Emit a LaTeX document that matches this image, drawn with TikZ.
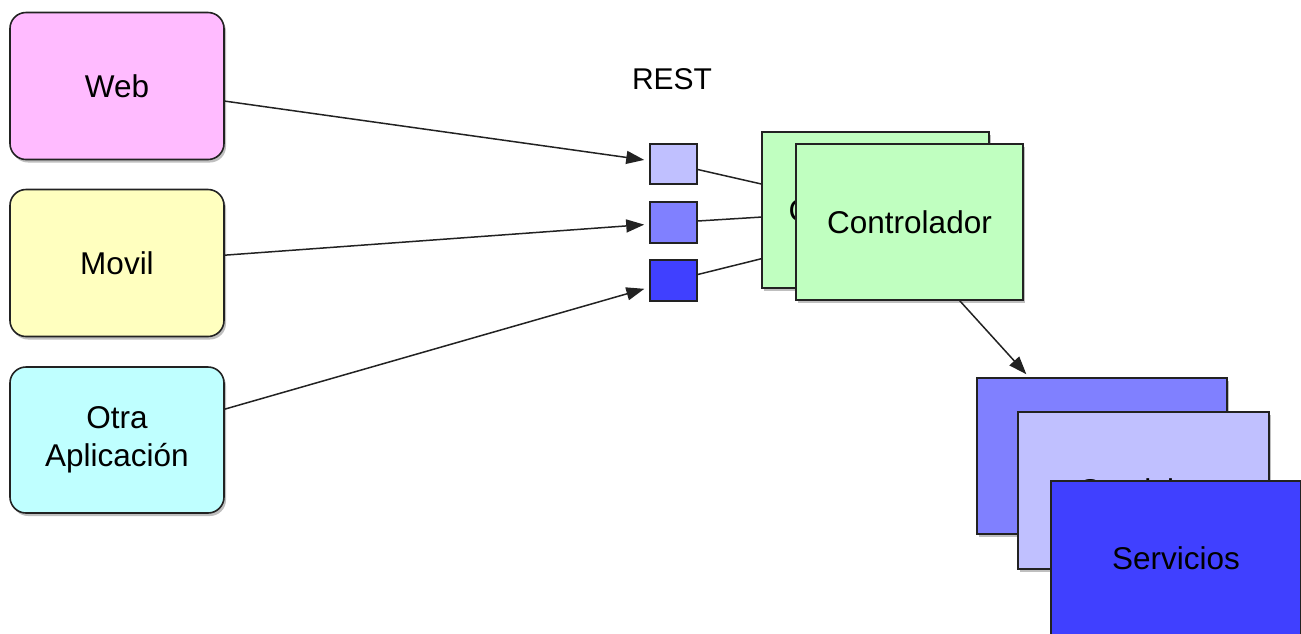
\documentclass[tikz,border=0pt]{standalone}
\usepackage{fontspec}
\setmainfont{Liberation Sans}
\usetikzlibrary{arrows.meta,shadows,backgrounds,calc}

\definecolor{edge}{HTML}{222222}
\definecolor{webfill}{HTML}{FFBBFF}
\definecolor{movilfill}{HTML}{FFFFBF}
\definecolor{otrafill}{HTML}{BFFFFF}
\definecolor{ctrlfill}{HTML}{C0FFC0}
\definecolor{bluelight}{HTML}{C0C0FF}
\definecolor{bluemid}{HTML}{8080FF}
\definecolor{bluedark}{HTML}{4040FF}

\tikzset{
  lbl/.style={font=\fontsize{31.5pt}{38pt}\selectfont, text=black},
  boxshadow/.style={drop shadow={shadow xshift=2pt, shadow yshift=-3pt, fill=black, opacity=0.25}},
  client/.style={lbl, draw=edge, line width=1.6pt, rounded corners=16pt, boxshadow,
    minimum width=214pt, minimum height=147pt, align=center, inner sep=0pt},
  port/.style={draw=edge, line width=1.6pt, minimum width=47pt, minimum height=41pt, inner sep=0pt},
  layerbox/.style={lbl, draw=edge, line width=1.6pt, boxshadow, inner sep=0pt},
  link/.style={draw=edge, line width=1.5pt},
  tip/.style={-{Triangle[length=18pt,width=13pt]}},
  flow/.style={link, tip, shorten >=5pt},
}

\begin{document}
\begin{tikzpicture}[x=1pt,y=-1pt]
  \useasboundingbox (0,0) rectangle (1301,633);
  \clip (0,0) rectangle (1301,633);

  % client applications
  \node[client, fill=webfill]   (web)   at (117,86)  {Web};
  \node[client, fill=movilfill] (movil) at (117,263) {Movil};
  \node[client, fill=otrafill, minimum height=146pt] (otra) at (117,440) {Otra\\Aplicación};

  % REST end points
  \node[font=\fontsize{30pt}{36pt}\selectfont] (rest) at (672,79) {REST};
  \node[port, fill=bluelight, minimum height=40pt] (p1) at (673.5,164)   {};
  \node[port, fill=bluemid]   (p2) at (673.5,222.5) {};
  \node[port, fill=bluedark]  (p3) at (673.5,280.5) {};

  % stacked controllers
  \node[layerbox, fill=ctrlfill, minimum width=227pt, minimum height=156pt] (cb) at (875.5,210) {\hspace*{-9pt}Controlador};
  \node[layerbox, fill=ctrlfill, minimum width=227pt, minimum height=156pt] (cf) at (909.5,222) {Controlador};

  % stacked services
  \node[layerbox, fill=bluemid,   minimum width=250pt, minimum height=156pt] (sb) at (1102,456)   {Servicios};
  \node[layerbox, fill=bluelight, minimum width=251pt, minimum height=157pt] (sm) at (1143.5,490.5) {Servicios};
  \node[layerbox, fill=bluedark,  minimum width=250pt, minimum height=156pt] (sf) at (1176,559)   {\raisebox{2pt}{Servicios}};

  % ports feed the controllers (hidden behind the boxes)
  \begin{scope}[on background layer]
    \draw[link] (p1) -- (cb.center);
    \draw[link] (p2) -- (cb.center);
    \draw[link] (p3) -- (cf.center);
  \end{scope}

  % requests from clients
  \draw[flow] (web)   -- (p1);
  \draw[flow] (movil) -- (p2);
  \draw[flow] (otra)  -- (p3);

  % controller calls services
  \draw[link, tip, shorten >=4pt]
    ($(cf.south west)!0.72!(cf.south east)$) -- ($(sb.north west)!0.21!(sb.north east)$);
\end{tikzpicture}
\end{document}
